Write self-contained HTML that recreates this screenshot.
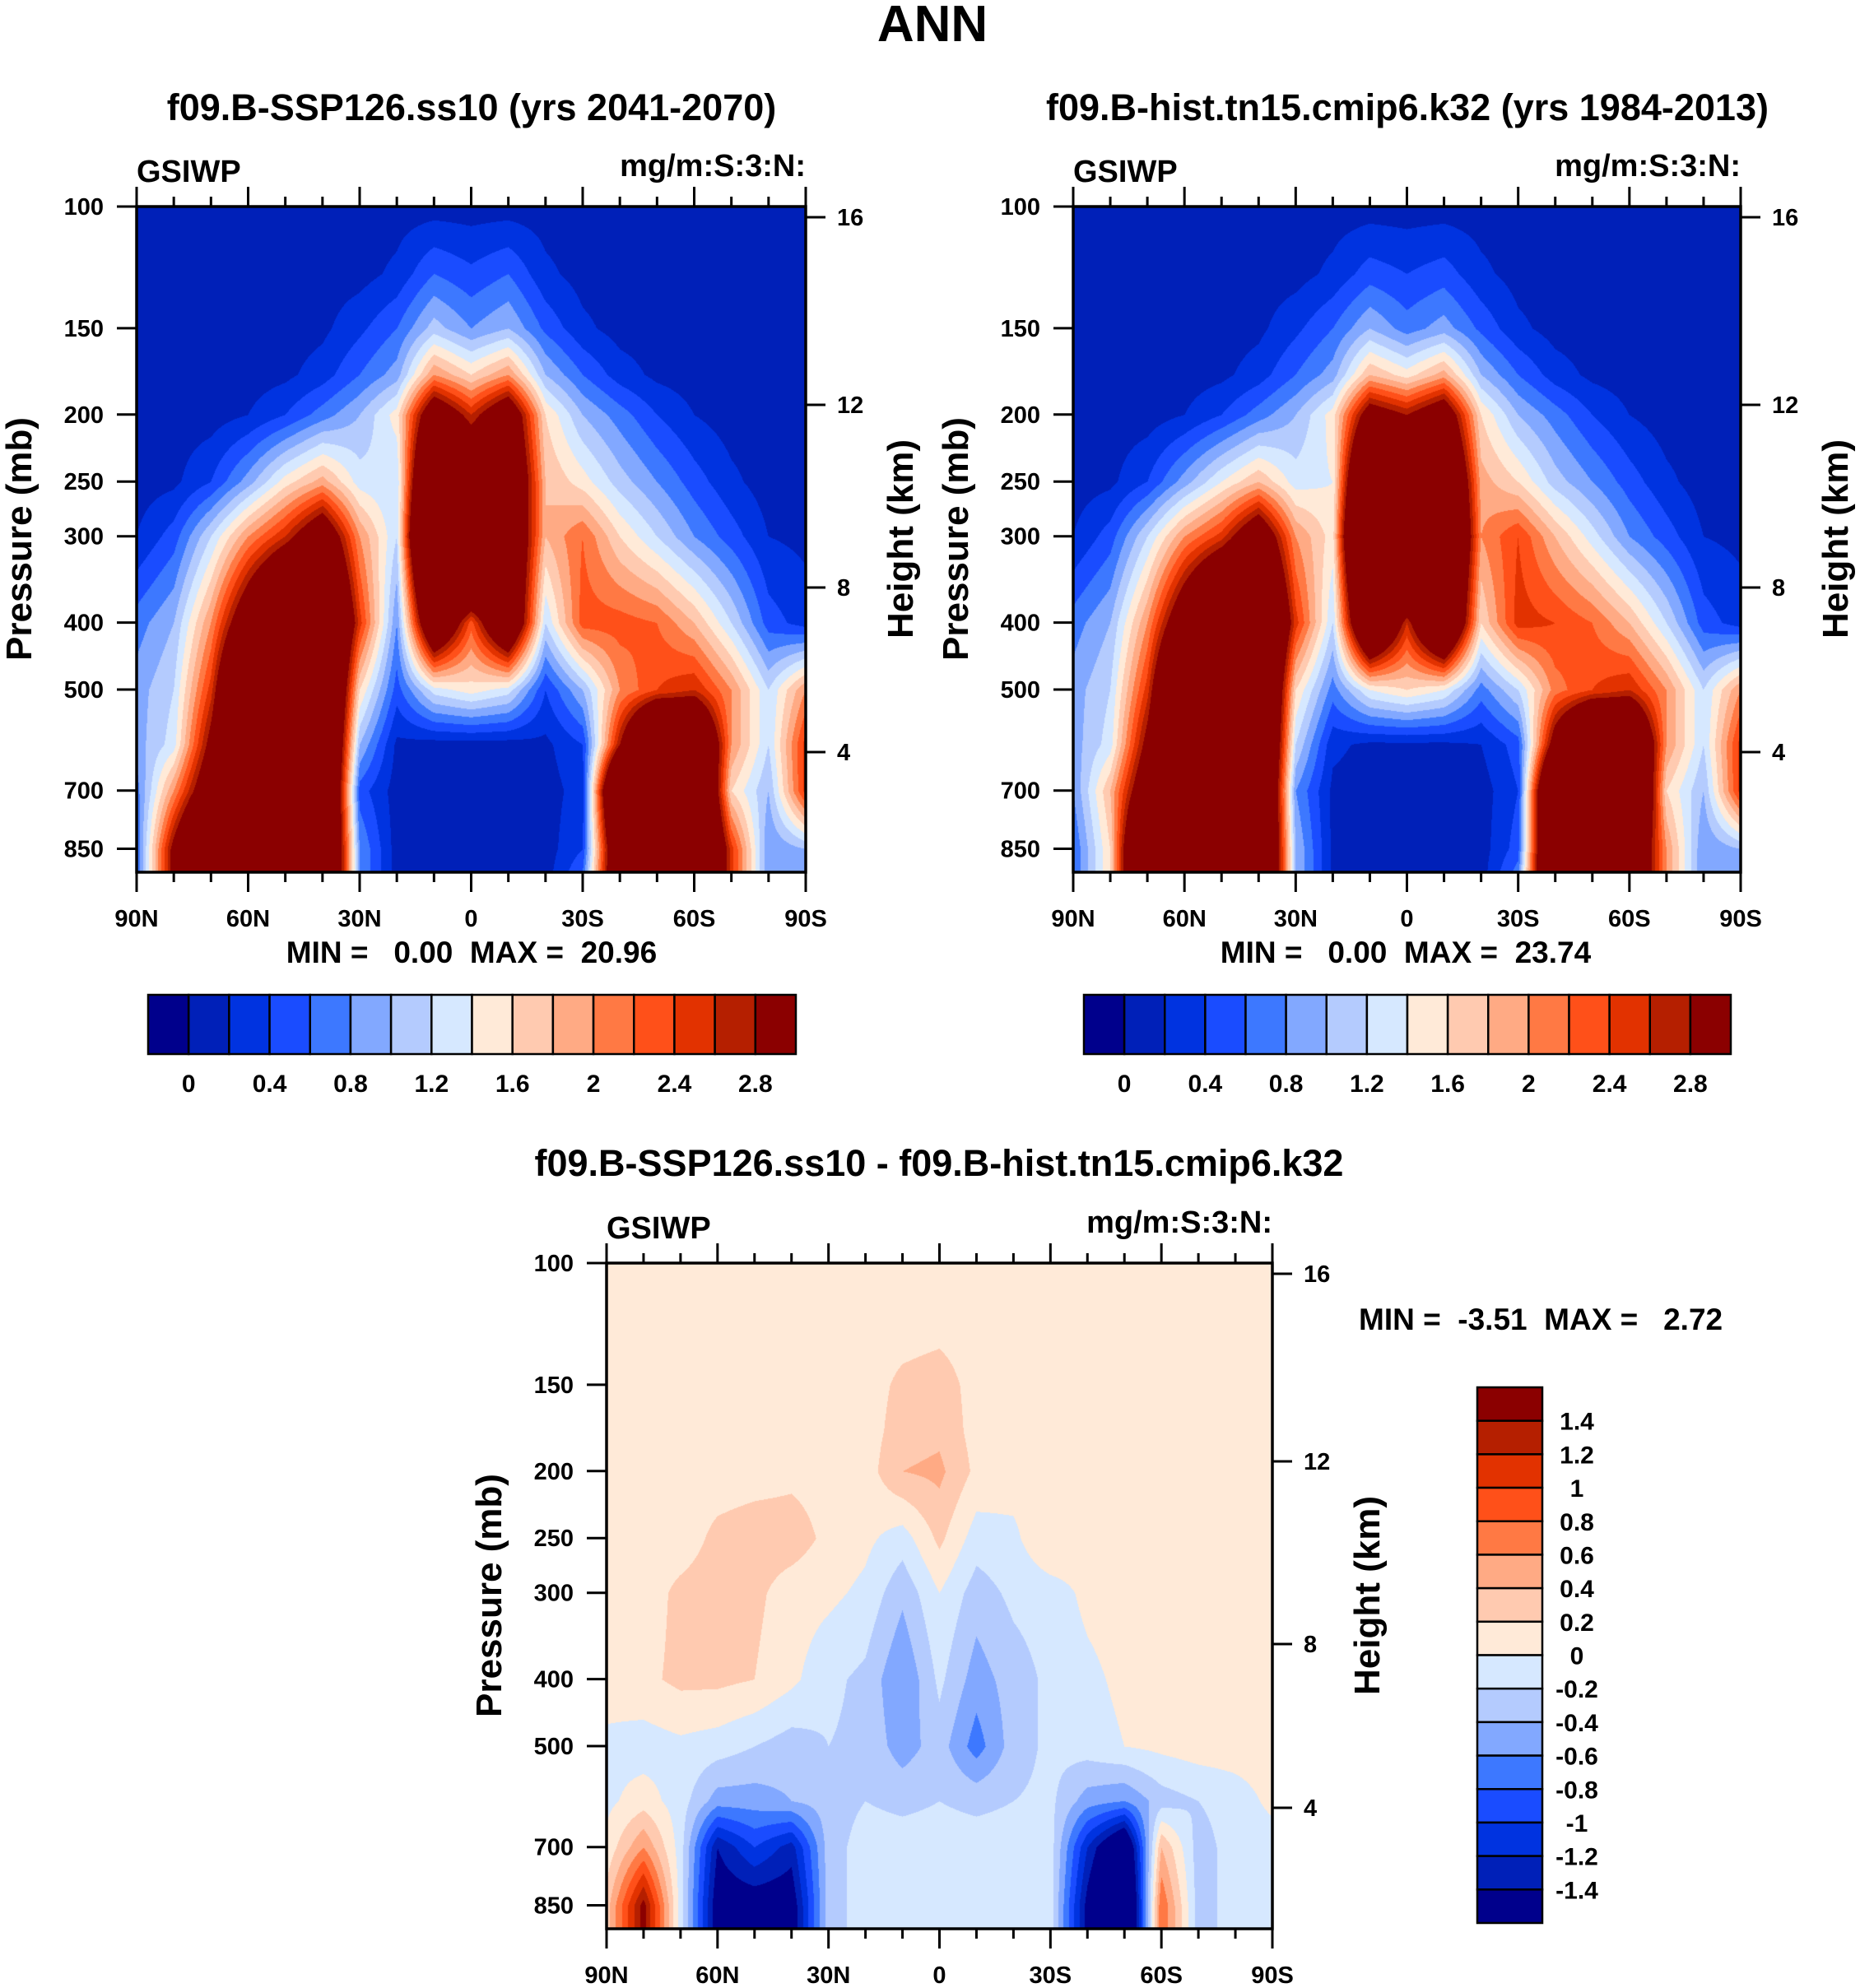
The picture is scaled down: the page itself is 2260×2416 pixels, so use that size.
<!DOCTYPE html>
<html><head><meta charset="utf-8"><style>
html,body{margin:0;padding:0;background:#fff;}
#root{position:relative;width:2260px;height:2416px;overflow:hidden;background:#fff;}
canvas{position:absolute;}
svg{position:absolute;left:0;top:0;}
text{font-family:"Liberation Sans",Arial,sans-serif;font-weight:bold;fill:#000;}
</style></head><body>
<div id="root">
<canvas id="c1"></canvas>
<canvas id="c2"></canvas>
<canvas id="c3"></canvas>
<svg id="svg" width="2260" height="2416"></svg>
</div>
<script>
// ---- data ----
const lats = [90,80,70,60,50,40,30,20,10,0,-10,-20,-30,-40,-50,-60,-70,-80,-90];
const pressures = [100,125,150,175,200,250,300,400,500,600,700,850,920];
const pTicks = [100,150,200,250,300,400,500,700,850];
const latTickLabels = ["90N","60N","30N","0","30S","60S","90S"];
const kmTicks = [16,12,8,4];
const levelsAbs = [0,0.2,0.4,0.6,0.8,1,1.2,1.4,1.6,1.8,2,2.2,2.4,2.6,2.8];
const levelsAbsLabels = ["0","0.4","0.8","1.2","1.6","2","2.4","2.8"];
const levelsDiff = [-1.4,-1.2,-1,-0.8,-0.6,-0.4,-0.2,0,0.2,0.4,0.6,0.8,1,1.2,1.4];
const levelsDiffLabels = ["-1.4","-1.2","-1","-0.8","-0.6","-0.4","-0.2","0","0.2","0.4","0.6","0.8","1","1.2","1.4"];
const palette = ["#00008c","#0020b8","#0033e0","#1a4cff","#3d78ff","#82a8ff","#b4cbfe","#d6e8ff","#ffead8","#ffcab0","#ffaa84","#ff7944","#ff5019","#e23200","#b51f00","#8b0000"];

const ssp = [
[.1,.1,.1,.1,.1,.1,.1,.1,.1,.1,.1,.1,.1,.1,.1,.1,.1,.1,.1],
[.1,.1,.1,.1,.1,.1,.12,.25,.6,.45,.6,.25,.12,.1,.1,.1,.1,.1,.1],
[.1,.1,.1,.1,.1,.15,.35,.6,1.1,.8,1.0,.55,.25,.12,.1,.1,.1,.1,.1],
[.1,.1,.1,.1,.15,.3,.6,.9,2.0,1.6,2.0,1.0,.6,.3,.15,.1,.1,.1,.1],
[.1,.1,.1,.2,.4,.7,1.0,1.5,3.5,2.6,3.5,1.6,1.0,.7,.4,.2,.1,.1,.1],
[.1,.15,.4,.9,1.5,1.9,1.3,1.2,5,4,4,1.8,1.5,1.1,.8,.5,.25,.1,.1],
[.2,.5,1.2,2.0,2.6,3.5,2.0,1.2,6,6,4,1.8,2.2,1.6,1.2,.8,.5,.2,.15],
[.7,1.0,2.0,3.5,5,5,2.5,.8,4,2.3,4,1.2,2.3,2.3,2.2,1.8,1.2,.5,.3],
[.9,1.2,2.5,5,4,5,1.6,.5,1.3,1.5,1.3,.4,1.0,2.0,2.4,2.6,2.0,1.2,2.0],
[.9,1.3,3,5,5,5,1.0,.15,.1,.1,.1,.15,.4,2.8,5,4.5,2.0,1.2,2.5],
[.7,2.0,3.5,5,5,5,.5,.1,.1,.1,.1,.1,.3,5,5,5,1.6,1.0,2.5],
[.6,3,5,5,5,5,.8,.1,.1,.1,.1,.1,.4,4,5,5,2.5,.8,1],
[.6,3,5,5,5,5,.8,.1,.1,.1,.1,.1,.6,4,5,5,2.5,.8,1]
];
const hist = [
[.1,.1,.1,.1,.1,.1,.1,.1,.1,.1,.1,.1,.1,.1,.1,.1,.1,.1,.1],
[.1,.1,.1,.1,.1,.1,.12,.25,.5,.4,.5,.25,.12,.1,.1,.1,.1,.1,.1],
[.1,.1,.1,.1,.1,.15,.35,.6,1.0,.7,.9,.55,.25,.12,.1,.1,.1,.1,.1],
[.1,.1,.1,.1,.15,.3,.6,.9,1.8,1.5,1.9,1.0,.6,.3,.15,.1,.1,.1,.1],
[.1,.1,.1,.2,.4,.7,1.0,1.5,3.2,2.8,3.4,1.6,1.0,.7,.4,.2,.1,.1,.1],
[.1,.15,.4,.9,1.4,1.8,1.3,1.4,5,5,4.5,1.9,1.6,1.1,.8,.5,.25,.1,.1],
[.2,.5,1.2,2.0,2.5,3.5,2.0,1.5,6,6,5,2.0,2.4,1.8,1.3,.8,.5,.2,.15],
[.7,1.0,2.0,3.5,5,5,2.5,1.2,4.5,2.6,4.5,1.6,2.5,2.4,2.2,1.8,1.2,.5,.3],
[.9,1.2,2.5,5,4,5,1.6,.7,1.4,1.6,1.4,.7,1.2,2.1,2.4,2.6,2.0,1.2,2.0],
[.9,1.3,3,5,5,5,1.2,.25,.15,.15,.15,.2,.5,3.2,5,4.5,2.0,1.2,2.5],
[.8,1.8,3.5,5,5,5,.8,.15,.1,.1,.1,.1,.4,5,5,5,1.6,1.0,2.5],
[.6,1.6,5,5,5,5,1.0,.15,.1,.1,.1,.1,.5,5,5,4,2.0,.8,1],
[.6,1.6,5,5,5,5,1.0,.15,.1,.1,.1,.1,.7,5,5,4,2.0,.8,1]
];
const diff = [
[.1,.1,.1,.1,.1,.1,.1,.1,.1,.1,.1,.1,.1,.1,.1,.1,.1,.1,.1],
[.1,.1,.1,.1,.1,.1,.1,.1,.12,.15,.1,.1,.1,.1,.1,.1,.1,.1,.1],
[.1,.1,.1,.1,.1,.1,.1,.1,.25,.3,.12,.1,.1,.1,.1,.1,.1,.1,.1],
[.1,.1,.1,.1,.1,.1,.1,.1,.3,.35,.12,.1,.1,.1,.1,.1,.1,.1,.1],
[.1,.1,.1,.1,.12,.15,.12,.1,.4,.45,.15,.1,.1,.1,.1,.1,.1,.1,.1],
[.1,.1,.1,.25,.3,.3,.15,.05,-.1,.25,-.1,-.05,.2,.1,.1,.1,.1,.1,.1],
[.1,.1,.25,.3,.25,.1,.05,-.05,-.35,0,-.3,-.15,-.1,.05,.1,.1,.1,.1,.1],
[.1,.15,.25,.25,.2,.05,-.15,-.25,-.6,-.15,-.5,-.3,-.15,-.05,.05,.1,.1,.1,.1],
[-.05,-.1,-.05,-.1,-.2,-.3,-.2,-.25,-.5,-.3,-.7,-.3,-.15,-.1,0,.05,.1,.1,.1],
[-.05,.1,-.1,-.5,-.5,-.4,-.3,-.2,-.25,-.2,-.25,-.2,-.15,-.5,-.6,-.3,-.2,-.1,.05],
[.05,.6,-.1,-1.4,-1.0,-1.3,-.3,-.1,-.1,-.1,-.1,-.1,-.1,-1.2,-2,.4,-.3,-.1,-.1],
[.3,1.5,-.1,-1.6,-1.6,-1.6,-.3,-.1,-.1,-.1,-.1,-.1,-.1,-1.5,-2.5,.8,-.3,-.1,-.1],
[.3,1.5,-.1,-1.6,-1.6,-1.6,-.3,-.1,-.1,-.1,-.1,-.1,-.1,-1.5,-2.5,.8,-.3,-.1,-.1]
];

// ---- layout ----
const P_BOT = 919;
const panels = [
 {id:'c1', x0:166, y0:251, w:813, h:809, data:ssp, levels:levelsAbs, name:'ssp126'},
 {id:'c2', x0:1304, y0:251, w:811, h:809, data:hist, levels:levelsAbs, name:'hist'},
 {id:'c3', x0:737, y0:1535, w:809, h:809, data:diff, levels:levelsDiff, name:'difference'}
];
function yOfP(pn,p){return pn.y0 + pn.h*(Math.log10(p)-2)/(Math.log10(P_BOT)-2);}
function xOfLat(pn,lat){return pn.x0 + pn.w*(90-lat)/180;}
function hex(c){return [parseInt(c.substr(1,2),16),parseInt(c.substr(3,2),16),parseInt(c.substr(5,2),16)];}
const pal = palette.map(hex);
function levelIndex(v,levels){let k=0;while(k<levels.length && v>=levels[k]-1e-9)k++;return k;}

const logP = pressures.map(p=>Math.log10(p));
function sample(data,lat,lp){
  let fi=(lats[0]-lat)/(lats[0]-lats[1]); fi=Math.max(0,Math.min(lats.length-1,fi));
  let i=Math.min(lats.length-2,Math.floor(fi)); let tx=fi-i;
  let j=0; while(j<logP.length-2 && lp>logP[j+1]) j++;
  let ty=(lp-logP[j])/(logP[j+1]-logP[j]); ty=Math.max(0,Math.min(1,ty));
  const a=data[j][i],b=data[j][i+1],c=data[j+1][i],d=data[j+1][i+1];
  return (a*(1-tx)+b*tx)*(1-ty)+(c*(1-tx)+d*tx)*ty;
}
panels.forEach(pn=>{
  const cv=document.getElementById(pn.id);
  cv.width=pn.w; cv.height=pn.h;
  cv.style.left=pn.x0+'px'; cv.style.top=pn.y0+'px';
  const ctx=cv.getContext('2d'); const img=ctx.createImageData(pn.w,pn.h);
  for(let y=0;y<pn.h;y++){
    const lp=2+(y/pn.h)*(Math.log10(P_BOT)-2);
    for(let x=0;x<pn.w;x++){
      const lat=90-180*(x+0.5)/pn.w;
      const v=sample(pn.data,lat,lp);
      const c=pal[levelIndex(v,pn.levels)];
      const o=(y*pn.w+x)*4; img.data[o]=c[0];img.data[o+1]=c[1];img.data[o+2]=c[2];img.data[o+3]=255;
    }
  }
  ctx.putImageData(img,0,0);
});

// ---- svg overlay ----
const svg=document.getElementById('svg'); const NS='http://www.w3.org/2000/svg';
function el(tag,attrs,parent){const e=document.createElementNS(NS,tag);for(const k in attrs)e.setAttribute(k,attrs[k]);(parent||svg).appendChild(e);return e;}
function txt(s,x,y,size,anchor,parent){const t=el('text',{x:x,y:y,'font-size':size,'text-anchor':anchor||'middle'},parent);t.textContent=s;return t;}

const t0=txt('ANN',1133,50,62,'middle');



const subtitles=[
 ['f09.B-SSP126.ss10 (yrs 2041-2070)',573,146],
 ['f09.B-hist.tn15.cmip6.k32 (yrs 1984-2013)',1710,146],
 ['f09.B-SSP126.ss10 - f09.B-hist.tn15.cmip6.k32',1141,1429]
];
const heightKmY=[[264,492,714,914],[264,492,714,914],[1548,1776,1998,2197]];
const minmax=[['MIN =   0.00  MAX =  20.96',573,1170,'middle'],['MIN =   0.00  MAX =  23.74',1708,1170,'middle'],['MIN =  -3.51  MAX =   2.72',1651,1616,'start']];

panels.forEach((pn,k)=>{
  const g=el('g',{});
  
  
  const st=txt(subtitles[k][0],subtitles[k][1],subtitles[k][2],45,'middle',g);
  
  
  const gl=txt('GSIWP',pn.x0,pn.y0-30,38,'start',g);
  
  
  const un=txt('mg/m:S:3:N:',pn.x0+pn.w,pn.y0-37,38,'end',g);
  
  
  const fr=el('rect',{x:pn.x0,y:pn.y0,width:pn.w,height:pn.h,fill:'none',stroke:'#000','stroke-width':3.5},g);
  
  
  for(let lat=90;lat>=-90;lat-=10){
    const x=xOfLat(pn,lat); const major=(lat%30===0); const L=major?24:12;
    el('line',{x1:x,y1:pn.y0,x2:x,y2:pn.y0-L,stroke:'#000','stroke-width':3},g);
    el('line',{x1:x,y1:pn.y0+pn.h,x2:x,y2:pn.y0+pn.h+L,stroke:'#000','stroke-width':3},g);
  }
  latTickLabels.forEach((s,i)=>{
    const lt=txt(s,xOfLat(pn,90-30*i),pn.y0+pn.h+66,29,'middle',g);
    
    
  });
  pTicks.forEach(p=>{
    const y=yOfP(pn,p);
    el('line',{x1:pn.x0,y1:y,x2:pn.x0-24,y2:y,stroke:'#000','stroke-width':3},g);
    const pt=txt(String(p),pn.x0-40,y+10,29,'end',g);
    
    
  });
  kmTicks.forEach((km,i)=>{
    const y=heightKmY[k][i];
    el('line',{x1:pn.x0+pn.w,y1:y,x2:pn.x0+pn.w+24,y2:y,stroke:'#000','stroke-width':3},g);
    const ht=txt(String(km),pn.x0+pn.w+38,y+10,29,'start',g);
    
    
  });
  const cy=pn.y0+404;
  const py=txt('Pressure (mb)',0,0,44,'middle',g);
  py.setAttribute('transform','translate('+(pn.x0-128)+','+cy+') rotate(-90)');
  
  
  const hy=txt('Height (km)',0,0,44,'middle',g);
  hy.setAttribute('transform','translate('+(pn.x0+pn.w+130)+','+cy+') rotate(-90)');
  
  
  const mm=txt(minmax[k][0],minmax[k][1],minmax[k][2],37,minmax[k][3],g);
  mm.setAttribute('xml:space','preserve'); mm.style.whiteSpace='pre';
  
  
});

[[180,1209,787,72],[1317,1209,786,72]].forEach((cb,k)=>{
  const g=el('g',{});
  
  
  const bw=cb[2]/palette.length;
  palette.forEach((c,i)=>{
    const r=el('rect',{x:cb[0]+i*bw,y:cb[1],width:bw,height:cb[3],fill:c,stroke:'#000','stroke-width':2.5},g);
    
    
  });
  levelsAbsLabels.forEach((s,i)=>{
    const ct=txt(s,cb[0]+(1+2*i)*bw,cb[1]+cb[3]+46,30,'middle',g);
    
    
  });
});
(function(){
  const g=el('g',{});
  
  
  const x=1795,y=1686,w=79,h=651,bh=h/palette.length;
  palette.slice().reverse().forEach((c,i)=>{
    const r=el('rect',{x:x,y:y+i*bh,width:w,height:bh,fill:c,stroke:'#000','stroke-width':2.5},g);
    
    
  });
  levelsDiffLabels.slice().reverse().forEach((s,i)=>{
    const ct=txt(s,1916,y+(i+1)*bh+11,30,'middle',g);
    
    
  });
})();
</script>
</body></html>
